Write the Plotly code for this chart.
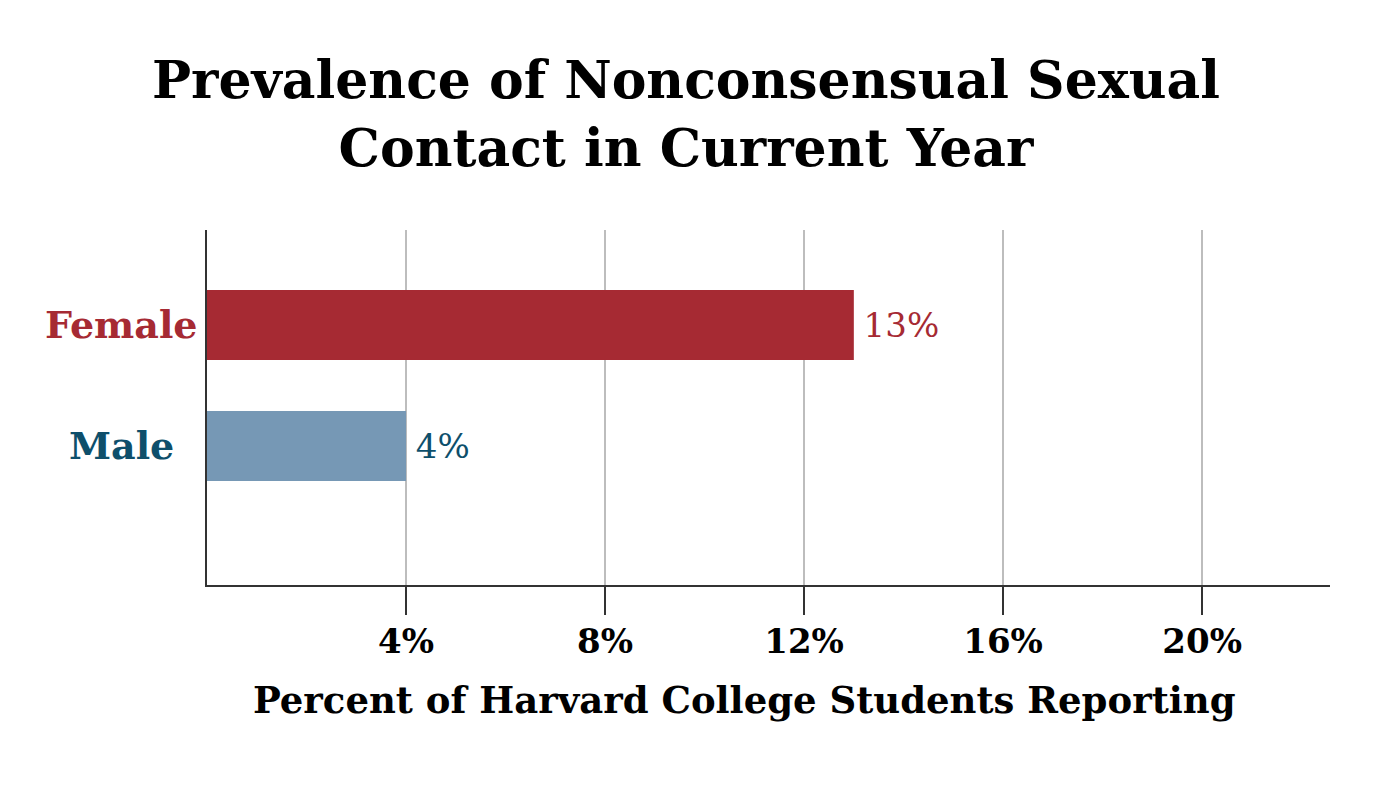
import plotly.graph_objects as go

categories = ["Female", "Male"]
values = [13, 4]
bar_colors = ["#A62A33", "#7698B5"]
label_colors = ["#A62A33", "#0E4F6B"]
value_labels = ["13%", "4%"]
tick_vals = [4, 8, 12, 16, 20]
tick_text = ["<b>4%</b>", "<b>8%</b>", "<b>12%</b>", "<b>16%</b>", "<b>20%</b>"]

FONT = "DejaVu Serif"

# page body has an 8px margin; compensate so the plot area lands where the reference has it
W, H = 1377, 798
ML, MR, MT, MB = 199, 55, 222, 221
PW = W - ML - MR
PH = H - MT - MB


def px_x(X):
    return (X - 8 - ML) / PW


def px_y(Y):
    return (H - MB - (Y - 8)) / PH


fig = go.Figure()
fig.add_trace(go.Bar(
    y=categories, x=values, orientation="h",
    marker=dict(color=bar_colors, line=dict(width=0)),
    width=0.58,
    text=value_labels, texttemplate="\u2009%{text}", textposition="outside",
    textfont=dict(family=FONT, size=34, color=label_colors),
    cliponaxis=False,
    hoverinfo="skip",
))

for cat, col in zip(categories, label_colors):
    fig.add_annotation(
        x=px_x(121), xref="paper", y=cat, yref="y",
        text="<b>%s</b>" % cat, showarrow=False,
        xanchor="center", yanchor="middle",
        font=dict(family=FONT, size=38, color=col),
    )

fig.add_annotation(
    x=px_x(686), xref="paper", xanchor="center",
    y=px_y(113), yref="paper", yanchor="middle",
    text="<b>Prevalence of Nonconsensual Sexual<br>Contact in Current Year</b>",
    showarrow=False,
    font=dict(family=FONT, size=52, color="#000000"),
)

fig.add_annotation(
    x=px_x(744), xref="paper", xanchor="center",
    y=px_y(700), yref="paper", yanchor="middle",
    text="<b>Percent of Harvard College Students Reporting</b>",
    showarrow=False,
    font=dict(family=FONT, size=37, color="#000000"),
)

fig.update_layout(
    width=W, height=H,
    margin=dict(l=ML, r=MR, t=MT, b=MB),
    paper_bgcolor="white", plot_bgcolor="white",
    showlegend=False,
    xaxis=dict(
        range=[0, 22.57],
        tickvals=tick_vals, ticktext=tick_text,
        showgrid=True, gridcolor="#BDBDBD", gridwidth=1.5,
        zeroline=False,
        showline=True, linecolor="#333333", linewidth=2,
        ticks="outside", ticklen=28, tickcolor="#333333", tickwidth=1.5,
        tickfont=dict(family=FONT, size=34, color="#000000"),
        ticklabelstandoff=-3,
        layer="above traces",
        fixedrange=True,
    ),
    yaxis=dict(
        type="category",
        categoryorder="array", categoryarray=categories,
        range=[2.149, -0.785],
        showticklabels=False, ticks="",
        showgrid=False, zeroline=False,
        showline=True, linecolor="#333333", linewidth=2,
        fixedrange=True,
    ),
)

fig.write_html("out.html")
